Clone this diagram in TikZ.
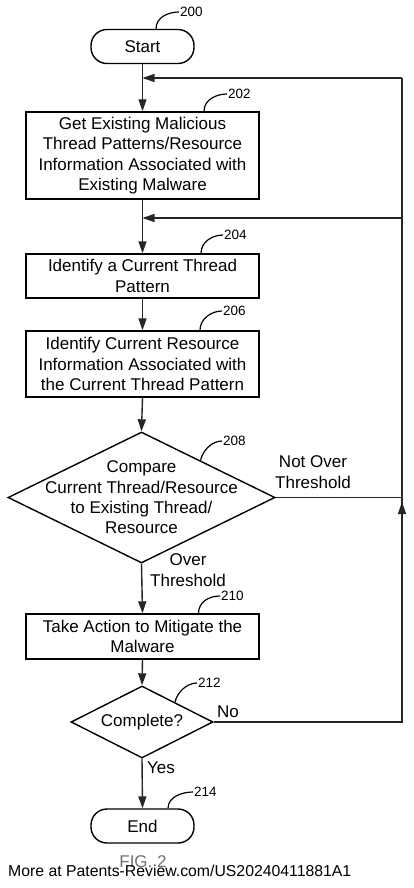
\documentclass[tikz,border=0pt]{standalone}
\usepackage{fontspec}
\setmainfont{Liberation Sans}
\usetikzlibrary{shapes.geometric,arrows.meta,calc}
\newcommand\mfsz{\fontsize{17}{20.4}\selectfont}
\newcommand\mrsz{\fontsize{13.5}{15}\selectfont}
\begin{document}
\begin{tikzpicture}[x=1pt,y=-1pt,
  box/.style={draw, line width=1.4pt, minimum width=233pt, inner sep=0pt, align=center, font=\mfsz},
  term/.style={draw, line width=1.4pt, rounded corners=16pt, minimum width=103pt, minimum height=34pt, inner sep=0pt, font=\mfsz},
  dia/.style={draw, diamond, line width=1.4pt, inner sep=0pt},
  flow/.style={line width=1.4pt, -{Triangle[length=12pt,width=8pt]}, draw=black!85},
  fb/.style={line width=1.2pt, draw=black!85},
  lead/.style={line width=1.2pt},
  ref/.style={font=\mrsz, anchor=west, inner sep=1pt},
  lab/.style={font=\mfsz, align=center, inner sep=0pt}]
\fill[white] (0,0) rectangle (414,888);
\useasboundingbox (0,0) rectangle (414,888);

% nodes
\node[term] (start) at (142.5,46.5) {Start};
\node[box, minimum height=87pt] (b202) at (142.5,155.5) {Get Existing Malicious\\Thread Patterns/Resource\\Information Associated with\\Existing Malware};
\node[box, minimum height=44pt] (b204) at (142.5,276) {Identify a Current Thread\\Pattern};
\node[box, minimum height=66pt] (b206) at (142.5,364) {Identify Current Resource\\Information Associated with\\the Current Thread Pattern};
\node[dia, minimum width=267pt, minimum height=131pt] (d208) at (141.5,497.5) {};
\node[lab] (t208) at (d208) {Compare\\Current Thread/Resource\\to Existing Thread/\\Resource};
\node[box, minimum height=45pt] (b210) at (142.5,636.5) {Take Action to Mitigate the\\Malware};
\node[dia, minimum width=142pt, minimum height=72pt] (d212) at (142,722) {};
\node[lab] (t212) at (d212) {Complete?};
\node[term] (end) at (142.5,826) {End};

% feedback coordinates
\coordinate (r78) at (402,78);
\coordinate (r218) at (402,218);
\coordinate (r496) at (402,497.5);
\coordinate (r722) at (402,722);
\coordinate (upb) at (402,530);
\coordinate (upt) at (402,502);

% main flow
\draw[flow] (start.south) -- (b202.north);
\draw[flow] (b202.south) -- (b204.north);
\draw[flow] (b204.south) -- (b206.north);
\draw[flow] (b206.south) -- (d208.north);
\draw[flow] (d208.south) -- (b210.north);
\draw[flow] (b210.south) -- (d212.north);
\draw[flow] (d212.south) -- (end.north);

% feedback
\draw[fb] (d212.east) -- (r722) -- (r78);
\draw[fb] (d208.east) -- (r496);
\draw[flow, line width=1.2pt] (r78) -- (start.south |- r78);
\draw[flow, line width=1.2pt] (r218) -- (b202.south |- r218);
\draw[flow, line width=1.2pt] (upb) -- (upt);

% branch labels
\node[lab] (nov) at (313,472) {Not Over\\Threshold};
\node[lab] (ov) at (188,570) {Over\\Threshold};
\node[lab] (no) at (228,712) {No};
\node[lab] (yes) at (161,768) {Yes};

% reference numerals
\node[ref] (l200) at (179,12) {200};
\draw[lead] ([xshift=13.5pt]start.north) .. controls +(0,-12) and +(-10,0) .. (l200.west);
\node[ref] (l202) at (227,94) {202};
\draw[lead] ([xshift=61.5pt]b202.north) .. controls +(0,-12) and +(-10,0) .. (l202.west);
\node[ref] (l204) at (223,235) {204};
\draw[lead] ([xshift=58.5pt]b204.north) .. controls +(0,-12) and +(-10,0) .. (l204.west);
\node[ref] (l206) at (222,311) {206};
\draw[lead] ([xshift=57.5pt]b206.north) .. controls +(0,-12) and +(-10,0) .. (l206.west);
\node[ref] (l208) at (222,441) {208};
\draw[lead] ($(d208.north)!0.44!(d208.east)$) .. controls +(2,-10) and +(-10,0) .. (l208.west);
\node[ref] (l210) at (220,596) {210};
\draw[lead] ([xshift=56pt]b210.north) .. controls +(0,-12) and +(-10,0) .. (l210.west);
\node[ref] (l212) at (197,683) {212};
\draw[lead] ($(d212.north)!0.46!(d212.east)$) .. controls +(2,-10) and +(-10,0) .. (l212.west);
\node[ref] (l214) at (193,792) {214};
\draw[lead] ([xshift=25.5pt]end.north) .. controls +(0,-12) and +(-10,0) .. (l214.west);

% figure caption and watermark
\node[lab, text=black!55] (fig) at (143,862) {FIG. 2};
\node[font=\fontsize{15.8}{18}\selectfont, anchor=west, inner sep=0pt] (wm) at (8,871) {More at Patents-Review.com/US20240411881A1};
\end{tikzpicture}
\end{document}
